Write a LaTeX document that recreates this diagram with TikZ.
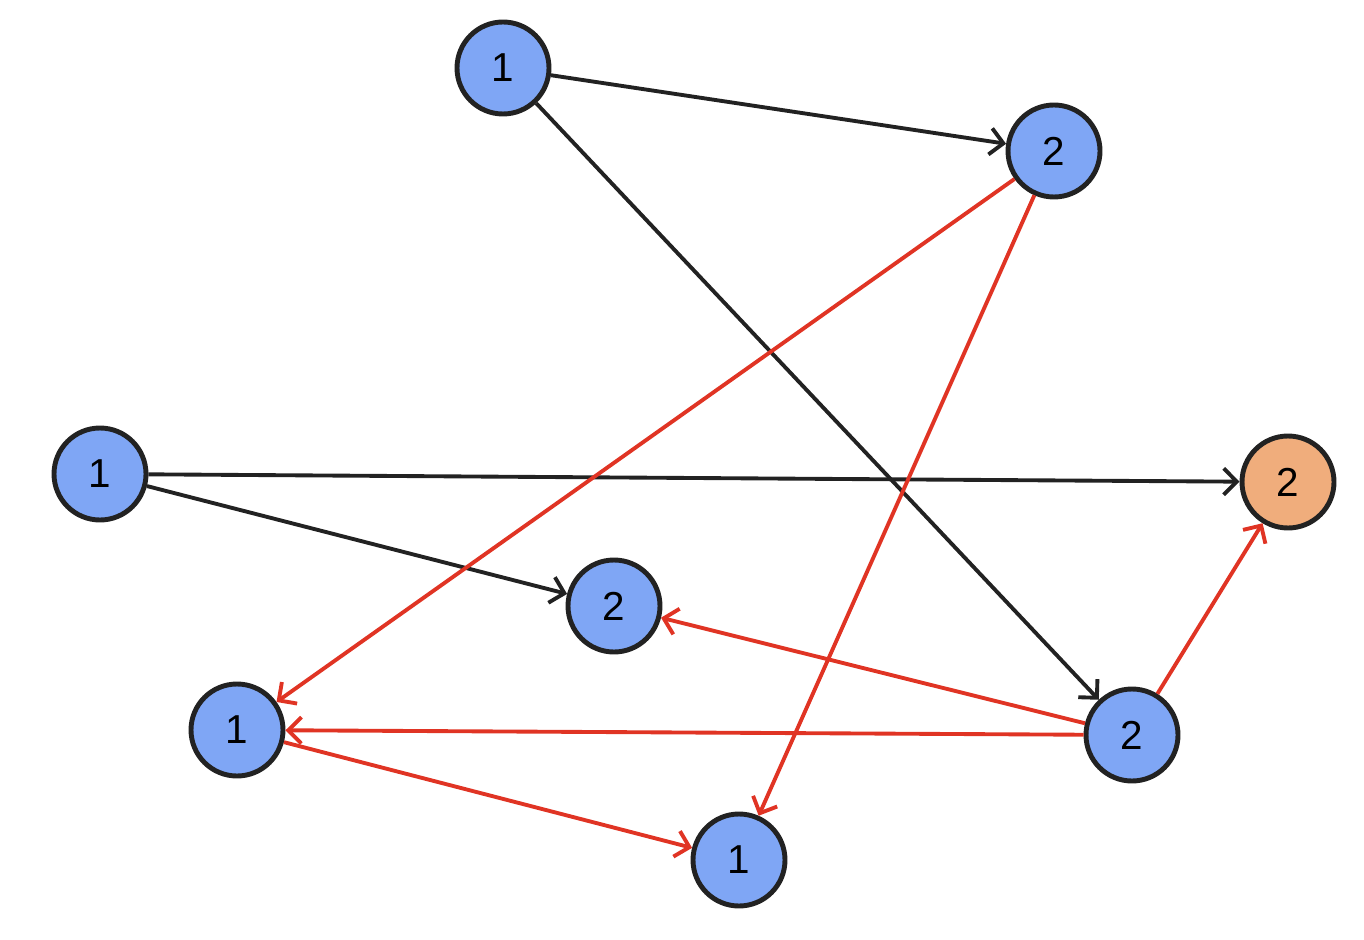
\documentclass[tikz,border=0pt]{standalone}
\usepackage{fontspec}
\setmainfont{Liberation Sans}
\usetikzlibrary{arrows.meta}
\definecolor{vblue}{HTML}{7FA6F5}
\definecolor{vorange}{HTML}{F0AD7C}
\definecolor{vline}{HTML}{222222}
\definecolor{vred}{HTML}{E03424}
\begin{document}
\begin{tikzpicture}[vertex/.style={circle,draw=vline,line width=2.8pt,fill=vblue,minimum size=1.84cm,inner sep=0pt,font=\fontsize{23}{25}\selectfont},
      tree/.style={-{Straight Barb[length=7.5pt,width=15pt]},line width=2.2pt,draw=vline},
      cross/.style={-{Straight Barb[length=7.5pt,width=15pt]},line width=2.2pt,draw=vred}]
    \useasboundingbox (0,0) rectangle (27.28,-18.8);

    \foreach \n/\x/\y/\l in {a/10.06/-1.36/1,b/21.08/-3.02/2,c/2.0/-9.48/1,e/12.28/-12.12/2,
                            f/4.74/-14.6/1,g/22.64/-14.7/2,h/14.78/-17.2/1} {
      \node[vertex] (\n) at (\x,\y) {\l};
    }
    \node[vertex,fill=vorange] (d) at (25.76,-9.64) {2};

    \draw[tree] (a) -- (b);
    \draw[tree] (a) -- (g);
    \draw[tree] (c) -- (d);
    \draw[tree] (c) -- (e);

    \draw[cross] (b) -- (f);
    \draw[cross] (b) -- (h);
    \draw[cross] (g) -- (e);
    \draw[cross] (g) -- (f);
    \draw[cross] (g) -- (d);
    \draw[cross] (f) -- (h);

\end{tikzpicture}
\end{document}
